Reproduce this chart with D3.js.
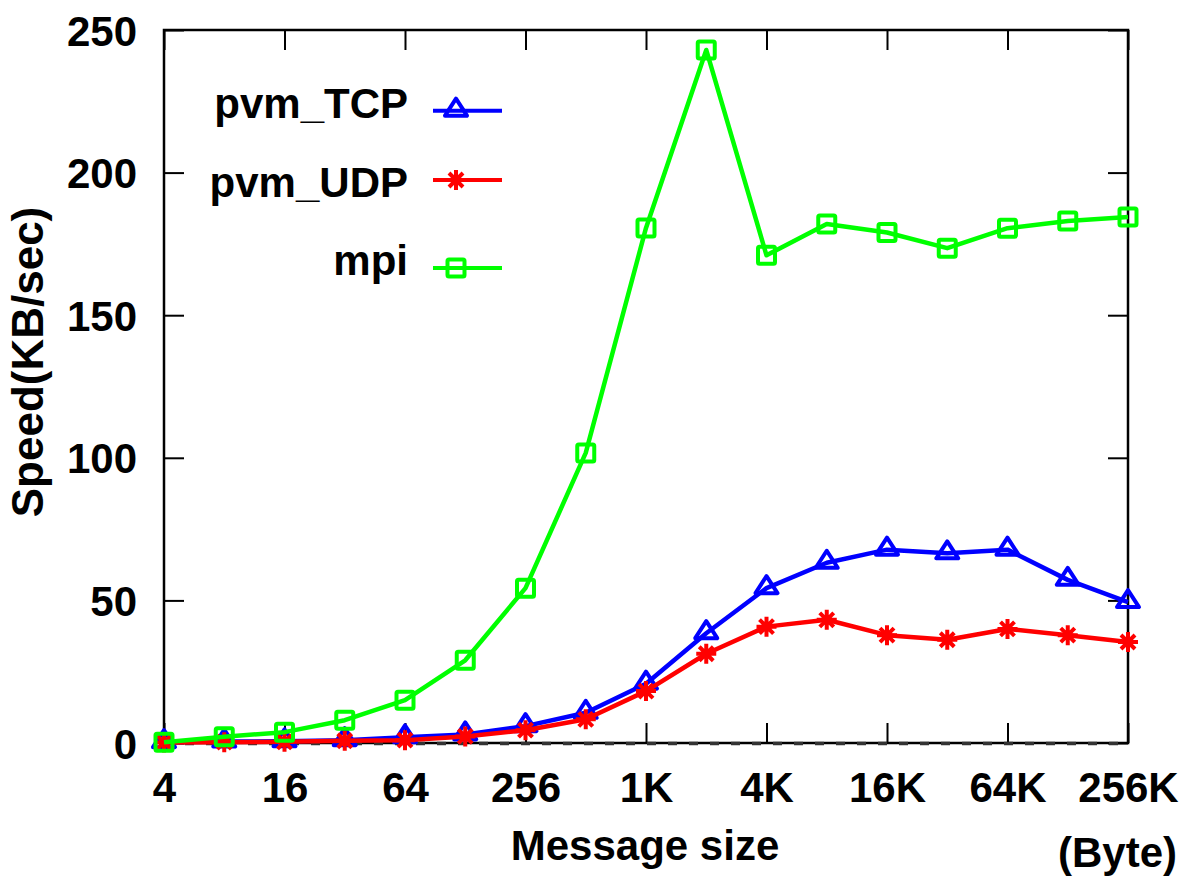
<!DOCTYPE html>
<html><head><meta charset="utf-8">
<script src="https://cdn.jsdelivr.net/npm/d3@7"></script>
<style>
html,body{margin:0;padding:0;background:#fff;}
text{font-family:"Liberation Sans",Arial,sans-serif;font-weight:bold;fill:#000;}
</style></head>
<body><svg id="c" width="1192" height="882"></svg>
<script>
const categories = ["4","8","16","32","64","128","256","512","1K","2K","4K","8K","16K","32K","64K","128K","256K"];
const xTickLabels = ["4","16","64","256","1K","4K","16K","64K","256K"];
const yTicks = [0,50,100,150,200,250];
const pvmTCP = [0.3,0.5,0.6,1.0,2.0,3.0,5.9,10.6,20.8,38.5,54.3,63.2,67.8,66.5,67.8,57.2,49.4];
const pvmUDP = [0.2,0.3,0.4,0.8,1.0,2.3,4.5,8.3,18.2,31.3,40.8,43.2,37.8,36.2,40.0,37.8,35.4];
const mpi = [0.3,2.2,3.8,8.0,15.0,29.0,54.3,101.7,180.6,243.0,171.0,182.0,179.0,173.5,180.5,183.0,184.4];
const seriesNames = ["pvm_TCP","pvm_UDP","mpi"];

const svg = d3.select("#c");
svg.append("rect").attr("width",1192).attr("height",882).attr("fill","#fff");
const L=164,R=1128,T=30,B=743;
const x = d3.scalePoint().domain(categories).range([L,R]);
const y = d3.scaleLinear().domain([0,250]).range([B,T]);

const gx = svg.append("g").attr("transform",`translate(0,${B})`)
  .call(d3.axisBottom(x).tickValues(xTickLabels).tickSizeInner(-20).tickSizeOuter(0));
gx.selectAll("text").attr("y",59).attr("dy",0).style("font-size","42px");
const gy = svg.append("g").attr("transform",`translate(${L},0)`)
  .call(d3.axisLeft(y).tickValues(yTicks).tickSizeInner(-20).tickSizeOuter(0));
gy.selectAll("text").attr("x",-27).attr("dy","0.36em").style("font-size","42px");
const gt = svg.append("g").attr("transform",`translate(0,${T})`)
  .call(d3.axisTop(x).tickValues(xTickLabels).tickSizeInner(-20).tickSizeOuter(0).tickFormat(""));
const gr = svg.append("g").attr("transform",`translate(${R},0)`)
  .call(d3.axisRight(y).tickValues(yTicks).tickSizeInner(-20).tickSizeOuter(0).tickFormat(""));
[gx,gy,gt,gr].forEach(g=>{
  g.select(".domain").remove();
  g.selectAll("line").attr("stroke","#000").attr("stroke-width",2);
  g.selectAll("text").attr("font-family",null);
});
svg.append("rect").attr("x",L).attr("y",T).attr("width",R-L).attr("height",B-T)
  .attr("fill","none").attr("stroke","#000").attr("stroke-width",2.5);
svg.append("line").attr("x1",L).attr("x2",R).attr("y1",y(0)+0.5).attr("y2",y(0)+0.5)
  .attr("stroke","#333").attr("stroke-width",3.5).attr("stroke-dasharray","9,12");

function triangle(g){ g.append("path").attr("d","M0,-12L11,5L-11,5Z").attr("stroke-linejoin","round"); }
function star(g){ g.append("path").attr("d","M-10,0H10M0,-10V10M-7,-7L7,7M-7,7L7,-7"); }
function square(g){ g.append("rect").attr("x",-8.5).attr("y",-8.5).attr("width",17).attr("height",17).attr("rx",1.5); }

const series = [
  {name:seriesNames[0], vals:pvmTCP, color:"#0000ff", marker:triangle, ly:110.7, ty:118},
  {name:seriesNames[1], vals:pvmUDP, color:"#ff0000", marker:star, ly:180, ty:197},
  {name:seriesNames[2], vals:mpi, color:"#00ff00", marker:square, ly:268, ty:275}
];
const line = d3.line().x((d,i)=>x(categories[i])).y(d=>y(d));
series.forEach(s=>{
  const g = svg.append("g");
  g.append("path").datum(s.vals).attr("d",line).attr("fill","none")
    .attr("stroke",s.color).attr("stroke-width",4.5).attr("stroke-linejoin","round");
  s.vals.forEach((v,i)=>{
    const m = g.append("g").attr("transform",`translate(${x(categories[i])},${y(v)})`)
      .attr("fill","none").attr("stroke",s.color).attr("stroke-width",4);
    s.marker(m);
  });
  svg.append("text").attr("x",408).attr("y",s.ty).attr("text-anchor","end")
    .style("font-size","42px").text(s.name);
  svg.append("line").attr("x1",433).attr("x2",502).attr("y1",s.ly).attr("y2",s.ly)
    .attr("stroke",s.color).attr("stroke-width",4);
  const lm = svg.append("g").attr("transform",`translate(456,${s.ly})`)
    .attr("fill","none").attr("stroke",s.color).attr("stroke-width",4);
  s.marker(lm);
});

svg.append("text").attr("x",645).attr("y",860).attr("text-anchor","middle")
  .style("font-size","42px").text("Message size");
svg.append("text").attr("x",1177).attr("y",867).attr("text-anchor","end")
  .style("font-size","42px").text("(Byte)");
svg.append("text").attr("transform","translate(43,362) rotate(-90)").attr("text-anchor","middle")
  .style("font-size","44px").text("Speed(KB/sec)");
</script></body></html>
